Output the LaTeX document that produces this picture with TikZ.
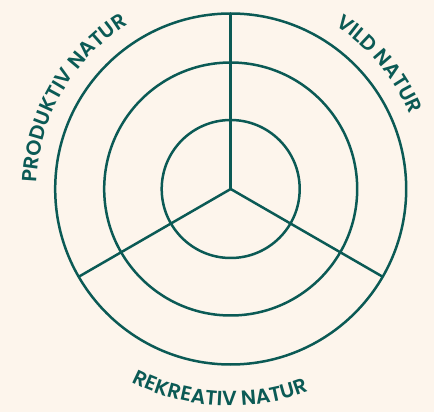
\documentclass[tikz,border=0pt]{standalone}
\usepackage{fontspec}
\setmainfont{Poppins}[BoldFont={Poppins SemiBold}]
\usepackage{xcolor}
\usetikzlibrary{decorations.text}
\definecolor{ink}{HTML}{0B5A55}
\definecolor{paper}{HTML}{FDF5EC}
\newcommand{\lblfont}{\bfseries\fontsize{20.5}{20.5}\selectfont}
\tikzset{
  nz/.style={x=1pt, y=1pt},
  n ring/.style={draw=ink, line width=2.5pt},
  n spoke/.style={draw=ink, line width=2.5pt},
  n arc/.style={decorate, decoration={text along path, text align=center,
                text color=ink, text format delimiters={|}{|}}},
}
\begin{document}
\begin{tikzpicture}[nz]
\fill[paper] (-230.7,-223) rectangle (203.3,189);
\useasboundingbox (-230.7,-223) rectangle (203.3,189);
\coordinate (c) at (0,0);
% ---- rings ----
\draw[n ring] (c) circle (69);
\draw[n ring] (c) circle (126.5);
\draw[n ring] (c) circle (175.5);
% ---- spokes ----
\coordinate (s1) at (90:175.5);
\coordinate (s2) at (210:175.5);
\coordinate (s3) at (330:175.5);
\draw[n spoke] (c) -- (s1); \draw[n spoke] (c) -- (s2); \draw[n spoke] (c) -- (s3);
% ---- labels ----
\path[n arc, decoration={text={|\lblfont|PRODUKTIV NATUR}}]
  (210:194) arc[start angle=210, end angle=90, radius=194];
\path[n arc, decoration={text={|\lblfont|VILD NATUR}}]
  (85:194) arc[start angle=85, end angle=-5, radius=194];
\path[n arc, decoration={text={|\lblfont|REKREATIV NATUR}}]
  (207:217) arc[start angle=207, end angle=327, radius=217];
\end{tikzpicture}
\end{document}
